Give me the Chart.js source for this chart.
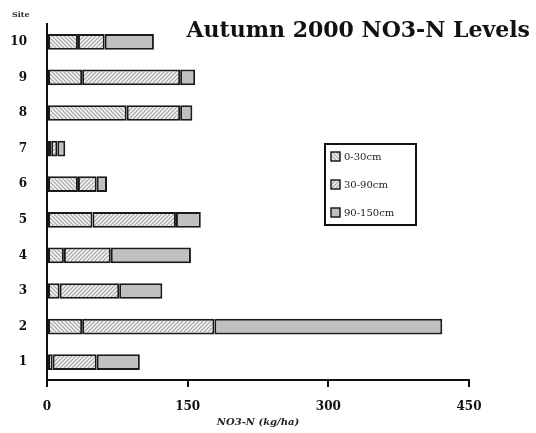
<!DOCTYPE html>
<html>
<head>
<meta charset="utf-8">
<script src="https://cdn.jsdelivr.net/npm/chart.js@4.4.1/dist/chart.umd.min.js"></script>
<style>
  html, body { margin: 0; padding: 0; background: #fff; }
  #wrap { width: 536px; height: 433px; }
</style>
</head>
<body>
<div id="wrap"><canvas id="chart" width="536" height="433"></canvas></div>
<script>
// --- data (kg/ha, site 1..10) ---
const sites = ['1', '2', '3', '4', '5', '6', '7', '8', '9', '10'];
const depth0to30 = [6, 37.5, 13.5, 18, 48.5, 33, 4.5, 85, 37.5, 33];
const depth30to90 = [47, 141, 63.5, 50, 89, 20, 6.5, 57, 104.5, 28.5];
const depth90to150 = [46, 243, 46, 85.5, 26.5, 11, 8.5, 13, 16, 52.5];
const seriesLabels = ['0-30cm', '30-90cm', '90-150cm'];
const xTicks = [0, 150, 300, 450];

// hatch fills
function hatch(dir) {
  const c = document.createElement('canvas');
  c.width = 4; c.height = 4;
  const g = c.getContext('2d');
  g.fillStyle = '#f4f4f4';
  g.fillRect(0, 0, 4, 4);
  g.strokeStyle = '#a0a0a0';
  g.lineWidth = 1.1;
  g.beginPath();
  if (dir === 'back') {
    g.moveTo(-1, -1); g.lineTo(5, 5);
    g.moveTo(-1, 3); g.lineTo(1, 5);
    g.moveTo(3, -1); g.lineTo(5, 1);
  } else {
    g.moveTo(-1, 5); g.lineTo(5, -1);
    g.moveTo(-1, 1); g.lineTo(1, -1);
    g.moveTo(3, 5); g.lineTo(5, 3);
  }
  g.stroke();
  return g.createPattern(c, 'repeat');
}

const ctx = document.getElementById('chart').getContext('2d');
const fills = [hatch('back'), hatch('fwd'), '#c0c0c0'];

// title, "Site" label and legend box
const extras = {
  id: 'extras',
  afterDraw(chart) {
    const g = chart.ctx;
    g.save();
    g.fillStyle = '#111';
    g.font = 'bold 22px "DejaVu Serif"';
    g.textBaseline = 'alphabetic';
    g.textAlign = 'right';
    g.fillText('Autumn 2000 NO3-N Levels', 530, 37);

    g.font = 'bold 8px "DejaVu Serif"';
    g.textAlign = 'left';
    g.fillStyle = '#333';
    g.fillText('Site', 12, 17);

    // legend
    g.strokeStyle = '#111';
    g.lineWidth = 2;
    g.strokeRect(325, 144, 91, 81);
    const ys = [152, 180, 208];
    g.font = '10px "DejaVu Serif"';
    g.textBaseline = 'middle';
    seriesLabels.forEach((lab, i) => {
      g.fillStyle = fills[i];
      g.fillRect(331, ys[i], 9, 9);
      g.lineWidth = 1.4;
      g.strokeRect(331, ys[i], 9, 9);
      g.fillStyle = '#222';
      g.fillText(lab, 344, ys[i] + 5);
    });
    g.restore();
  }
};

new Chart(ctx, {
  type: 'bar',
  data: {
    labels: sites,
    datasets: [depth0to30, depth30to90, depth90to150].map((d, i) => ({
      label: seriesLabels[i],
      data: d,
      backgroundColor: fills[i],
      borderColor: '#1a1a1a',
      borderWidth: 2,
      borderSkipped: false,
      barPercentage: 0.44,
      categoryPercentage: 1
    }))
  },
  options: {
    indexAxis: 'y',
    responsive: false,
    animation: false,
    devicePixelRatio: 1,
    layout: { padding: { top: 24, right: 67, left: 0, bottom: 0 } },
    plugins: {
      legend: { display: false },
      title: { display: false },
      tooltip: { enabled: false }
    },
    scales: {
      x: {
        stacked: true,
        min: 0,
        max: 450,
        afterBuildTicks: (s) => { s.ticks = xTicks.map(v => ({ value: v })); },
        afterFit: (s) => { s.height = 53; },
        grid: { drawOnChartArea: false, drawTicks: true, tickLength: 7, color: '#111', lineWidth: 2 },
        border: { color: '#111', width: 2 },
        ticks: { color: '#111', font: { family: 'DejaVu Serif', size: 12, weight: 'bold' }, padding: 13, maxRotation: 0 },
        title: {
          display: true,
          text: 'NO3-N (kg/ha)',
          color: '#222',
          font: { family: 'DejaVu Serif', size: 10, style: 'italic', weight: 'bold' },
          padding: { top: 0, bottom: 5 }
        }
      },
      y: {
        stacked: true,
        reverse: true,
        afterFit: (s) => { s.width = 47; },
        grid: { display: false },
        border: { color: '#111', width: 2 },
        ticks: { color: '#111', font: { family: 'DejaVu Serif', size: 12, weight: 'bold' }, padding: 12 }
      }
    }
  },
  plugins: [extras]
});
</script>
</body>
</html>
